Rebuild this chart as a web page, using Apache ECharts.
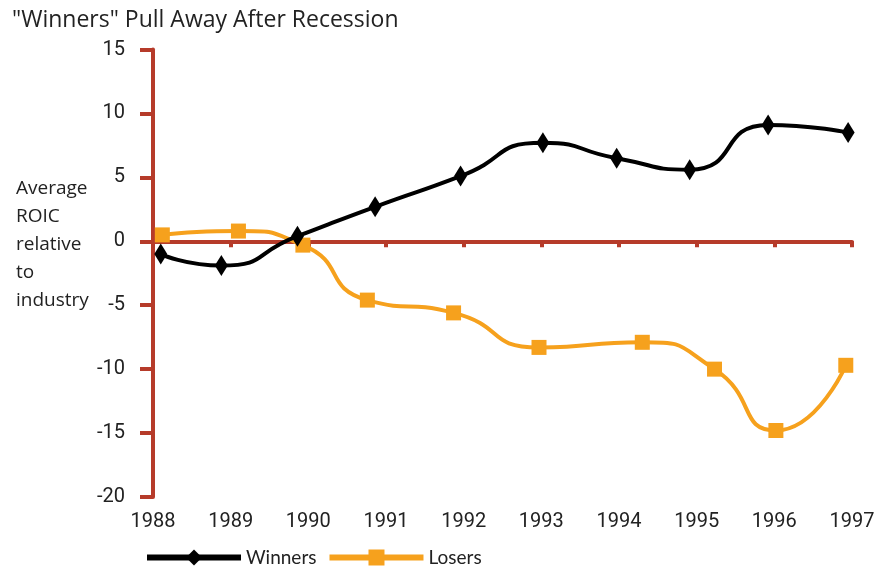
<!DOCTYPE html>
<html>
<head>
<meta charset="utf-8">
<script src="https://cdn.jsdelivr.net/npm/echarts@6.0.0/dist/echarts.min.js"></script>
<style>
  html, body { margin: 0; padding: 0; background: #fff; }
  #chart { width: 891px; height: 572px; }
</style>
</head>
<body>
<div id="chart"></div>
<script>
// years on the x axis (tick labels)
var years = [1988, 1989, 1990, 1991, 1992, 1993, 1994, 1995, 1996, 1997];
var yTicks = [-20, -15, -10, -5, 0, 5, 10, 15];

// points are not placed exactly on the year ticks, so keep x as fractional years
var winnersX = [1988.10, 1988.88, 1989.86, 1990.86, 1991.96, 1993.02, 1993.97, 1994.91, 1995.92, 1996.95];
var winnersY = [-1.0, -1.9, 0.4, 2.7, 5.1, 7.7, 6.5, 5.6, 9.1, 8.5];
var losersX = [1988.12, 1989.10, 1989.93, 1990.76, 1991.87, 1992.97, 1994.30, 1995.23, 1996.02, 1996.92];
var losersY = [0.5, 0.8, -0.3, -4.6, -5.6, -8.3, -7.9, -10.0, -14.8, -9.7];

var axisRed = "#b63b2a";
var orange = "#f6a11d";
var textColor = "#222";

function pairs(xs, ys) {
  var out = [];
  for (var i = 0; i < xs.length; i++) out.push([xs[i], ys[i]]);
  return out;
}

var dom = document.getElementById("chart");
var myChart = echarts.init(dom, null, { renderer: "canvas" });
var option = {
  animation: false,
  title: [
    {
      text: '"Winners" Pull Away After Recession',
      left: 12,
      top: 9,
      padding: 0,
      textStyle: { color: textColor, fontSize: 23, fontWeight: "normal", fontFamily: "Open Sans" },
    },
    {
      // y axis name, drawn as a block of text on the left
      text: "Average\nROIC\nrelative\nto\nindustry",
      left: 16,
      top: 175,
      padding: 0,
      textStyle: { color: textColor, fontSize: 19, fontWeight: "normal", lineHeight: 28, fontFamily: "Open Sans" },
    },
  ],
  legend: {
    left: 144,
    top: 548,
    padding: 0,
    itemWidth: 94,
    itemHeight: 20,
    itemGap: 10,
    lineStyle: { width: 6 },
    textStyle: { color: textColor, fontSize: 19, fontFamily: "Lato" },
    data: ["Winners", "Losers"],
  },
  grid: { left: 153, right: 39, top: 49.5, bottom: 75 },
  xAxis: {
    type: "value",
    min: years[0],
    max: years[years.length - 1],
    interval: 1,
    splitLine: { show: false },
    axisLine: { lineStyle: { color: axisRed, width: 4 } },
    axisTick: { show: true, length: 6, lineStyle: { color: axisRed, width: 4 } },
    axisLabel: {
      color: textColor,
      fontSize: 20,
      fontFamily: "Roboto",
      margin: 15,
      formatter: function (v) {
        return years.indexOf(v) >= 0 ? String(v) : "";
      },
    },
  },
  yAxis: {
    type: "value",
    min: yTicks[0],
    max: yTicks[yTicks.length - 1],
    interval: 5,
    splitLine: { show: false },
    axisLine: { onZero: false, lineStyle: { color: axisRed, width: 4 } },
    axisTick: { show: true, length: 13, lineStyle: { color: axisRed, width: 4 } },
    axisLabel: { color: textColor, fontSize: 20, fontFamily: "Roboto", margin: 28 },
  },
  series: [
    {
      name: "Winners",
      type: "line",
      data: pairs(winnersX, winnersY),
      smooth: 0.6,
      symbol: "diamond",
      symbolSize: [13, 21],
      lineStyle: { color: "#000", width: 4 },
      itemStyle: { color: "#000" },
      z: 3,
      markLine: {
        silent: true,
        symbol: "none",
        label: { show: false },
        lineStyle: { color: axisRed, width: 3, type: "solid" },
        data: [{ yAxis: 0 }],
        z: 1,
      },
    },
    {
      name: "Losers",
      type: "line",
      data: pairs(losersX, losersY),
      smooth: 0.6,
      symbol: "rect",
      symbolSize: 15,
      lineStyle: { color: orange, width: 4 },
      itemStyle: { color: orange },
      z: 2,
    },
  ],
};
if (option && typeof option === "object") {
  myChart.setOption(option);
}
window.addEventListener("resize", myChart.resize);
</script>
</body>
</html>
